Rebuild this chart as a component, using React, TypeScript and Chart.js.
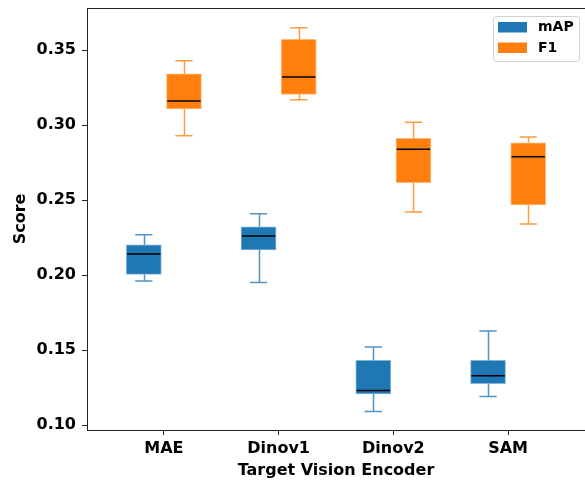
import React, { useEffect, useRef } from "react";
import { Chart, registerables } from "chart.js";

Chart.register(...registerables);

const categories = ["MAE", "Dinov1", "Dinov2", "SAM"];
const seriesNames = ["mAP", "F1"];
const seriesColors = ["#1f77b4", "#ff7f0e"];
const seriesEdge = ["rgba(31,119,180,0.55)", "rgba(255,127,14,0.55)"];
const seriesWhisker = ["rgba(31,119,180,0.78)", "rgba(255,127,14,0.78)"];
const seriesOffsets = [-0.175, 0.175];

const mapMin = [0.196, 0.195, 0.109, 0.119];
const mapQ1 = [0.2004, 0.2167, 0.1207, 0.1276];
const mapMed = [0.214, 0.226, 0.1231, 0.1329];
const mapQ3 = [0.2202, 0.2322, 0.1431, 0.1431];
const mapMax = [0.2269, 0.2409, 0.152, 0.1627];

const f1Min = [0.2929, 0.3169, 0.242, 0.234];
const f1Q1 = [0.3107, 0.3204, 0.2616, 0.2467];
const f1Med = [0.316, 0.332, 0.2838, 0.2789];
const f1Q3 = [0.3342, 0.3571, 0.2911, 0.2882];
const f1Max = [0.3429, 0.3649, 0.3018, 0.292];

const yTicks = [0.1, 0.15, 0.2, 0.25, 0.3, 0.35];

const stats = [
  { min: mapMin, q1: mapQ1, med: mapMed, q3: mapQ3, max: mapMax },
  { min: f1Min, q1: f1Q1, med: f1Med, q3: f1Q3, max: f1Max },
];

const FONT = "'DejaVu Sans', sans-serif";

const boxPlugin = {
  id: "boxExtras",
  afterDatasetsDraw(chart: any) {
    const { ctx, scales } = chart;
    const xs = scales.x;
    const ys = scales.y;
    ctx.save();
    stats.forEach((s, si) => {
      categories.forEach((_, i) => {
        const pos = i + 1 + seriesOffsets[si];
        const cx = Math.round(xs.getPixelForValue(pos)) + 0.5;
        const capL = xs.getPixelForValue(pos - 0.075);
        const capR = xs.getPixelForValue(pos + 0.075);
        const yMin = ys.getPixelForValue(s.min[i]);
        const yQ1 = ys.getPixelForValue(s.q1[i]);
        const yQ3 = ys.getPixelForValue(s.q3[i]);
        const yMax = ys.getPixelForValue(s.max[i]);
        ctx.strokeStyle = seriesWhisker[si];
        ctx.lineWidth = 1.5;
        ctx.beginPath();
        ctx.moveTo(cx, yQ1);
        ctx.lineTo(cx, yMin);
        ctx.moveTo(cx, yQ3);
        ctx.lineTo(cx, yMax);
        ctx.moveTo(capL, yMin);
        ctx.lineTo(capR, yMin);
        ctx.moveTo(capL, yMax);
        ctx.lineTo(capR, yMax);
        ctx.stroke();
        const mL = xs.getPixelForValue(pos - 0.145);
        const mR = xs.getPixelForValue(pos + 0.145);
        const yMed = ys.getPixelForValue(s.med[i]);
        ctx.strokeStyle = "#000";
        ctx.lineWidth = 1.5;
        ctx.beginPath();
        ctx.moveTo(mL, yMed);
        ctx.lineTo(mR, yMed);
        ctx.stroke();
      });
    });
    ctx.restore();
  },
  afterDraw(chart: any) {
    const { ctx, chartArea } = chart;
    ctx.save();
    // top spine
    ctx.strokeStyle = "#222";
    ctx.lineWidth = 1;
    ctx.beginPath();
    ctx.moveTo(chartArea.left, Math.round(chartArea.top) + 0.5);
    ctx.lineTo(chartArea.right, Math.round(chartArea.top) + 0.5);
    ctx.stroke();
    // legend (inside the axes, top right)
    const lx = chartArea.right - 92;
    const ly = chartArea.top + 8;
    const lw = 86;
    const lh = 45;
    ctx.fillStyle = "rgba(255,255,255,0.8)";
    ctx.strokeStyle = "rgba(204,204,204,0.9)";
    ctx.lineWidth = 1;
    ctx.beginPath();
    (ctx as any).roundRect(Math.round(lx) + 0.5, Math.round(ly) + 0.5, lw, lh, 3);
    ctx.fill();
    ctx.stroke();
    ctx.font = `bold 14px ${FONT}`;
    ctx.textBaseline = "middle";
    ctx.textAlign = "left";
    seriesNames.forEach((name, k) => {
      const py = ly + 6 + k * 20.5;
      ctx.fillStyle = seriesColors[k];
      ctx.fillRect(lx + 5, py, 29, 10.5);
      ctx.fillStyle = "#000";
      ctx.fillText(name, lx + 45, py + 5.5);
    });
    ctx.restore();
  },
};

export default function App() {
  const ref = useRef<HTMLCanvasElement | null>(null);
  useEffect(() => {
    if (!ref.current) return;
    const datasets = stats.map((s, si) => ({
      type: "bar" as const,
      label: seriesNames[si],
      data: categories.map((_, i) => ({
        x: i + 1 + seriesOffsets[si],
        y: [s.q1[i], s.q3[i]],
      })),
      backgroundColor: seriesColors[si],
      borderColor: seriesEdge[si],
      borderWidth: 1,
      borderSkipped: false,
      barThickness: 35,
      grouped: false,
    }));
    const chart = new Chart(ref.current, {
      type: "bar",
      data: { datasets: datasets as any },
      plugins: [boxPlugin],
      options: {
        responsive: false,
        animation: false,
        layout: { padding: { top: 8, right: 0, left: 0, bottom: 0 } },
        plugins: {
          legend: { display: false },
          tooltip: { enabled: false },
        },
        scales: {
          x: {
            type: "linear",
            min: 0.33,
            max: 4.67,
            offset: false,
            afterBuildTicks: (scale: any) => {
              scale.ticks = categories.map((_, i) => ({ value: i + 1 }));
            },
            afterFit: (scale: any) => {
              scale.height = 50;
              scale.paddingLeft = 0;
              scale.paddingRight = 0;
            },
            ticks: {
              autoSkip: false,
              maxRotation: 0,
              padding: 4,
              color: "#000",
              font: { family: FONT, size: 16, weight: "bold" },
              callback: (v: any) => categories[Math.round(Number(v)) - 1] ?? "",
            },
            grid: {
              offset: false,
              drawOnChartArea: false,
              drawTicks: true,
              tickLength: 5,
              color: "#222",
            },
            border: { display: true, color: "#222", width: 1 },
            title: {
              display: true,
              text: "Target Vision Encoder",
              color: "#000",
              font: { family: FONT, size: 16, weight: "bold" },
              padding: { top: 0, bottom: 0 },
            },
          },
          y: {
            type: "linear",
            min: 0.0967,
            max: 0.378,
            afterBuildTicks: (scale: any) => {
              scale.ticks = yTicks.map((v) => ({ value: v }));
            },
            afterFit: (scale: any) => {
              scale.width = 87;
              scale.paddingTop = 0;
              scale.paddingBottom = 0;
            },
            ticks: {
              padding: 6,
              color: "#000",
              font: { family: FONT, size: 16, weight: "bold" },
              callback: (v: any) => Number(v).toFixed(2),
            },
            grid: {
              drawOnChartArea: false,
              drawTicks: true,
              tickLength: 5,
              color: "#222",
            },
            border: { display: true, color: "#222", width: 1 },
            title: {
              display: true,
              text: "Score",
              color: "#000",
              font: { family: FONT, size: 16, weight: "bold" },
              padding: { top: 11, bottom: 0 },
            },
          },
        },
      } as any,
    });
    return () => chart.destroy();
  }, []);
  return (
    <div
      style={{
        position: "absolute",
        left: 0,
        top: 0,
        width: 585,
        height: 480,
        overflow: "hidden",
      }}
    >
      <canvas ref={ref} width={585} height={480} style={{ width: 585, height: 480 }} />
    </div>
  );
}
